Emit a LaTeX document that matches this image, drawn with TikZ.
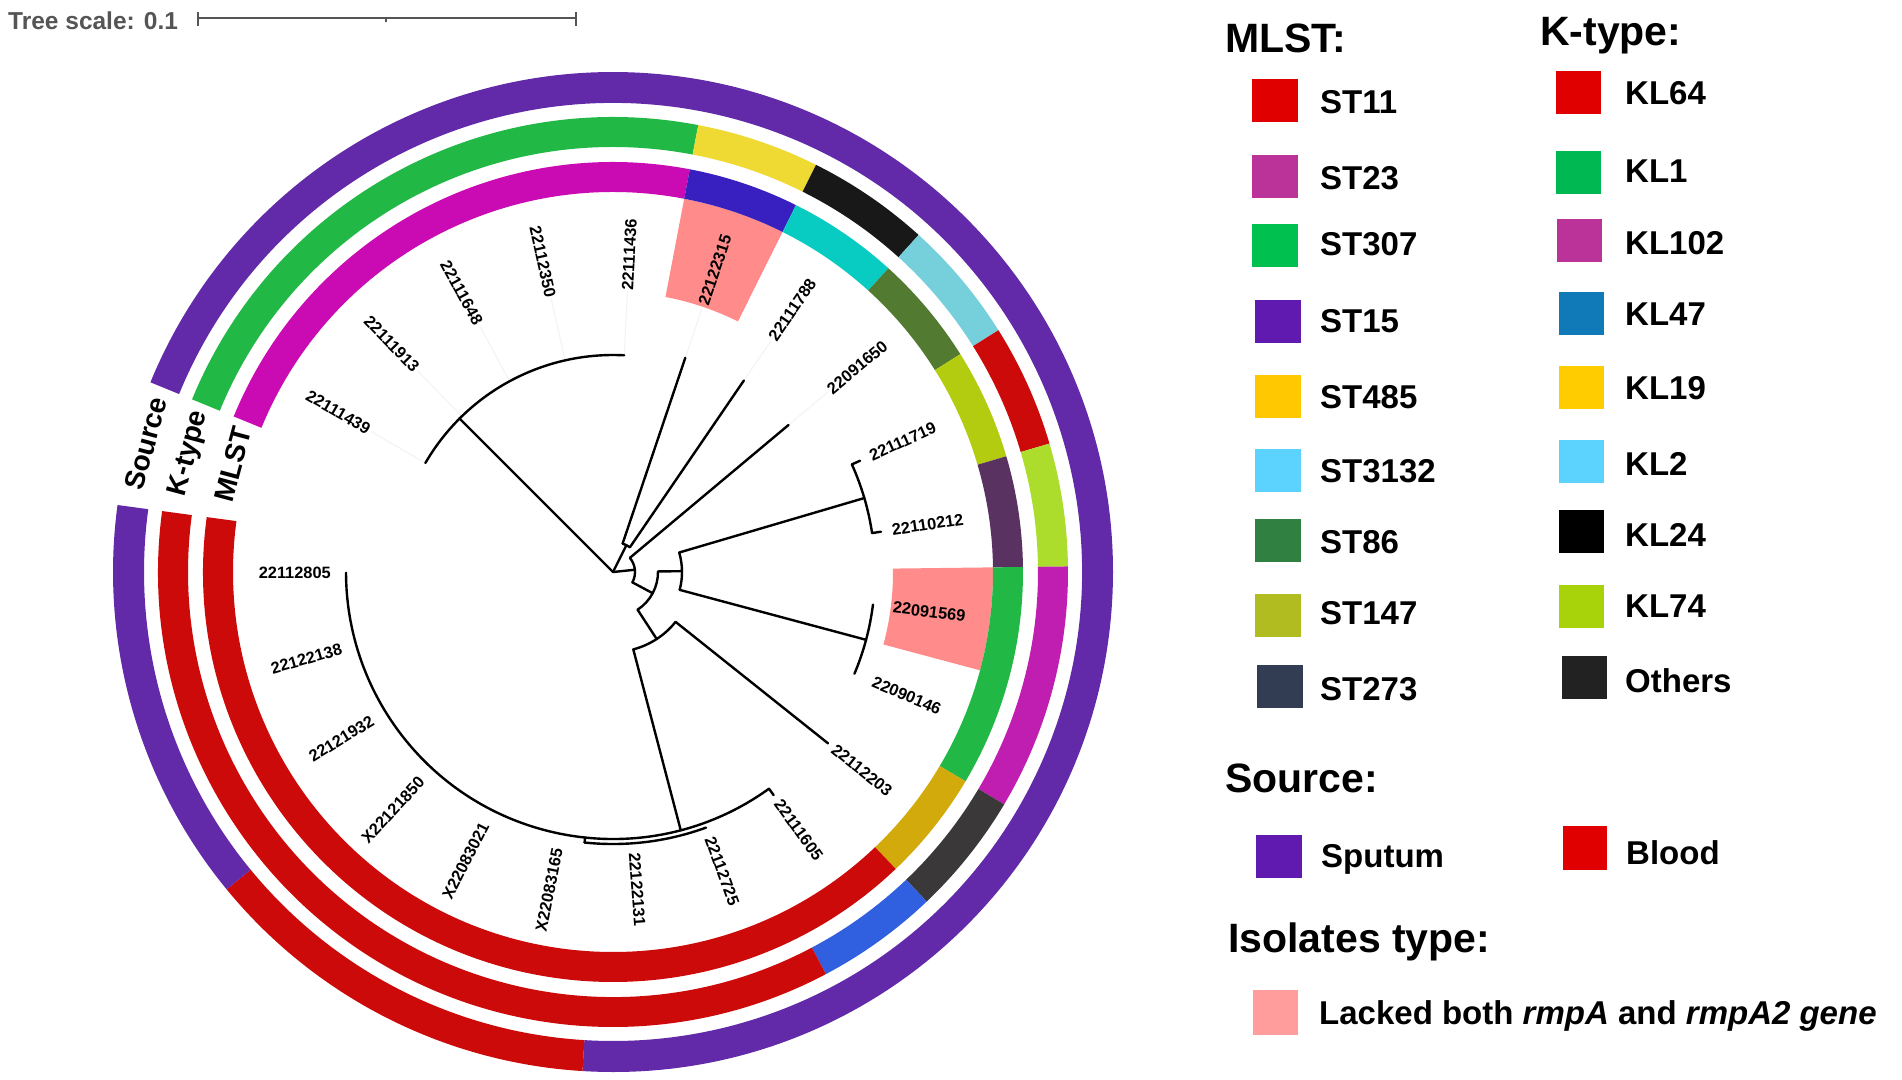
\documentclass[tikz,border=0pt]{standalone}
\usepackage{fontspec}
\setmainfont{Liberation Sans}

% ring colours
\definecolor{srcpurple}{RGB}{98,42,168}
\definecolor{ringred}{RGB}{204,10,10}
\definecolor{ringgreen}{RGB}{34,184,70}
\definecolor{ringmagenta}{RGB}{202,10,178}
\definecolor{ringkmagenta}{RGB}{192,30,176}
\definecolor{ringblue}{RGB}{56,32,192}
\definecolor{ringcyan}{RGB}{8,204,194}
\definecolor{ringolive}{RGB}{82,122,48}
\definecolor{ringygreen}{RGB}{180,204,16}
\definecolor{ringdpurple}{RGB}{90,50,98}
\definecolor{ringgold}{RGB}{210,170,12}
\definecolor{ringyellow}{RGB}{238,218,50}
\definecolor{ringblack}{RGB}{24,24,24}
\definecolor{ringlcyan}{RGB}{118,208,220}
\definecolor{ringkygreen}{RGB}{172,220,44}
\definecolor{ringdgray}{RGB}{58,56,56}
\definecolor{ringkblue}{RGB}{48,96,224}
\definecolor{lackpink}{RGB}{255,140,138}
\definecolor{scalegray}{RGB}{85,85,85}
% legend colours
\definecolor{keyST11}{RGB}{224,0,0}
\definecolor{keyST23}{RGB}{187,51,153}
\definecolor{keyST307}{RGB}{0,192,80}
\definecolor{keyST15}{RGB}{96,26,176}
\definecolor{keyST485}{RGB}{255,200,0}
\definecolor{keyST3132}{RGB}{92,210,255}
\definecolor{keyST86}{RGB}{48,128,66}
\definecolor{keyST147}{RGB}{176,188,32}
\definecolor{keyST273}{RGB}{50,60,82}
\definecolor{keyKL64}{RGB}{224,0,0}
\definecolor{keyKL1}{RGB}{0,184,82}
\definecolor{keyKL102}{RGB}{187,51,153}
\definecolor{keyKL47}{RGB}{16,122,184}
\definecolor{keyKL19}{RGB}{255,204,0}
\definecolor{keyKL2}{RGB}{92,210,255}
\definecolor{keyKL24}{RGB}{0,0,0}
\definecolor{keyKL74}{RGB}{168,210,10}
\definecolor{keyOthers}{RGB}{34,34,34}
\definecolor{keySputum}{RGB}{96,26,176}
\definecolor{keyBlood}{RGB}{224,0,0}
\definecolor{keyLacked}{RGB}{255,156,156}

\begin{document}
\begin{tikzpicture}[x=1pt,y=1pt,
    branch/.style={line width=2.4pt, line cap=round},
    guide/.style={black!5, line width=1pt},
    leaflabel/.style={inner sep=0pt, font=\bfseries\fontsize{16.4}{18}\selectfont},
    ringlabel/.style={inner sep=0pt, rotate=75, font=\bfseries\fontsize{28}{30}\selectfont},
    keytitle/.style={anchor=base west, inner sep=0pt, font=\bfseries\fontsize{41}{46}\selectfont},
    keytext/.style={anchor=base west, inner sep=0pt, font=\bfseries\fontsize{33}{38}\selectfont},
    swatch/.style={inner sep=0pt, minimum width=46pt, minimum height=43pt}]

\useasboundingbox (0,0) rectangle (1902,-1079);

%------ tree scale
\node [anchor=base west, inner sep=0pt, text=scalegray, font=\bfseries\fontsize{24.5}{28}\selectfont] (scaletext) at (8,-29) {Tree scale: 0.1};
\coordinate (sbL) at (198,-18);
\coordinate (sbM) at (386,-18);
\coordinate (sbR) at (576,-18);
\draw [scalegray, line width=2pt] (sbL) -- (sbR);
\draw [scalegray, line width=2pt] ([yshift=6pt]sbL) -- ([yshift=-8pt]sbL);
\draw [scalegray, line width=2pt] ([yshift=6pt]sbR) -- ([yshift=-8pt]sbR);
\draw [scalegray, line width=1.5pt] (sbM) -- ([yshift=-4pt]sbM);

\begin{scope}[shift={(613,-572)}]

	%------ highlighted isolates
	\foreach \k in {6,11} {
		\pgfmathsetmacro\a{157.7-(\k-1)*15.7}
		\pgfmathsetmacro\b{157.7-\k*15.7}
		\fill [lackpink] (\a:280) arc[start angle=\a, end angle=\b, radius=280pt] -- (\b:380) arc[start angle=\b, end angle=\a, radius=380pt] -- cycle;
	}

	%------ rings: MLST, K-type, Source
	\foreach \i/\j/\c/\ri/\ro in {
		1/5/ringmagenta/380/410, 6/6/ringblue/380/410, 7/7/ringcyan/380/410,
		8/8/ringolive/380/410, 9/9/ringygreen/380/410, 10/10/ringdpurple/380/410,
		11/12/ringgreen/380/410, 13/13/ringgold/380/410, 14/22/ringred/380/410,
		1/5/ringgreen/425/455, 6/6/ringyellow/425/455, 7/7/ringblack/425/455,
		8/8/ringlcyan/425/455, 9/9/ringred/425/455, 10/10/ringkygreen/425/455,
		11/12/ringkmagenta/425/455, 13/13/ringdgray/425/455, 14/14/ringkblue/425/455,
		15/22/ringred/425/455,
		1/16/srcpurple/469/500, 17/19/ringred/469/500, 20/22/srcpurple/469/500} {
		\pgfmathsetmacro\a{157.7-(\i-1)*15.7}
		\pgfmathsetmacro\b{157.7-\j*15.7}
		\fill [\c] (\a:\ri) arc[start angle=\a, end angle=\b, radius=\ri pt] -- (\b:\ro) arc[start angle=\b, end angle=\a, radius=\ro pt] -- cycle;
	}

	\node [ringlabel] (lblSource) at (164.6:484.5) {Source};
	\node [ringlabel] (lblKtype) at (164.4:440) {K-type};
	\node [ringlabel] (lblMLST) at (164.2:395) {MLST};

	%------ guides to the aligned labels
	\foreach \t/\r in {149.85/217, 134.15/217, 118.45/217, 102.75/217, 87.05/217, 71.35/226, 55.65/232, 39.95/229}
		\draw [guide] (\t:\r) -- (\t:280);

	%------ tree
	\coordinate (root) at (0,0);
	\coordinate (nA) at (135:217);
	\coordinate (n67) at (63.5:30);
	\coordinate (nB) at (5.9:22);
	\coordinate (nC) at (-28.1:45);
	\coordinate (nD) at (0.7:69);
	\coordinate (nE) at (16.4:262);
	\coordinate (nF) at (-15:262);
	\coordinate (nG) at (-56.9:80);
	\coordinate (nH) at (-75.3:267);

	\draw [branch] (root) -- (nA);
	\draw [branch] (149.85:217) arc[start angle=149.85, end angle=87.05, radius=217pt];

	\draw [branch] (root) -- (n67);
	\draw [branch] (71.35:30) arc[start angle=71.35, end angle=55.65, radius=30pt];
	\draw [branch] (71.35:30) -- (71.35:226);
	\draw [branch] (55.65:30) -- (55.65:232);

	\draw [branch] (root) -- (nB);
	\draw [branch] (39.95:22) arc[start angle=39.95, end angle=-28.1, radius=22pt];
	\draw [branch] (39.95:22) -- (39.95:229);
	\draw [branch] (-28.1:22) -- (nC);
	\draw [branch] (0.7:45) arc[start angle=0.7, end angle=-56.9, radius=45pt];
	\draw [branch] (0.7:45) -- (nD);
	\draw [branch] (16.4:69) arc[start angle=16.4, end angle=-15, radius=69pt];
	\draw [branch] (16.4:69) -- (nE);
	\draw [branch] (-15:69) -- (nF);
	\draw [branch] (24.25:262) arc[start angle=24.25, end angle=8.55, radius=262pt];
	\draw [branch] (24.25:262) -- (24.25:271);
	\draw [branch] (8.55:262) -- (8.55:271);
	\draw [branch] (-7.15:262) arc[start angle=-7.15, end angle=-22.85, radius=262pt];

	\draw [branch] (-56.9:45) -- (nG);
	\draw [branch] (-38.55:80) arc[start angle=-38.55, end angle=-75.3, radius=80pt];
	\draw [branch] (-38.55:80) -- (-38.55:275);
	\draw [branch] (-75.3:80) -- (nH);
	\draw [branch] (-54.25:267) arc[start angle=-54.25, end angle=-179.85, radius=267pt];
	\draw [branch] (-54.25:267) -- (-54.25:275);
	\draw [branch] (-70:272) arc[start angle=-70, end angle=-96, radius=272pt];
	\draw [branch] (-96:267) -- (-96:272);

	%------ leaf labels
	\foreach \k/\nm in {5/22111436, 6/22122315, 7/22111788, 8/22091650, 9/22111719, 10/22110212,
		11/22091569, 12/22090146, 13/22112203, 14/22111605, 15/22112725, 16/22122131} {
		\pgfmathsetmacro\t{157.7-(\k-0.5)*15.7}
		\node [leaflabel, anchor=west, rotate=\t] (l\nm) at (\t:282) {\nm};
	}
	\foreach \k/\nm in {1/22111439, 2/22111913, 3/22111648, 4/22112350, 17/X22083165, 18/X22083021,
		19/X22121850, 20/22121932, 21/22122138, 22/22112805} {
		\pgfmathsetmacro\t{157.7-(\k-0.5)*15.7}
		\node [leaflabel, anchor=east, rotate=\t+180] (l\nm) at (\t:282) {\nm};
	}
\end{scope}

%------ legend
\node [keytitle] (ttMLST) at (1225,-52) {MLST:};
\foreach \nm/\sx/\sy/\ty in {ST11/1274.5/100.5/113, ST23/1274.5/176.5/189, ST307/1275/245.5/255,
	ST15/1278/321/332, ST485/1278/396/408, ST3132/1278/470/482, ST86/1278/540/553,
	ST147/1278/615/624, ST273/1280/686.5/700} {
	\node [swatch, fill=key\nm] (sw\nm) at (\sx,-\sy) {};
	\node [keytext] (tx\nm) at (1320,-\ty) {\nm};
}

\node [keytitle] (ttKtype) at (1540,-45) {K-type:};
\foreach \nm/\sx/\sy/\ty in {KL64/1578.5/92.5/104, KL1/1578.5/172.5/182, KL102/1579/240.5/254,
	KL47/1581/313/325, KL19/1581/387.5/399, KL2/1581/461.5/475, KL24/1581.5/531/546,
	KL74/1581.5/606/617, Others/1584/677.5/692} {
	\node [swatch, minimum width=45pt, fill=key\nm] (sw\nm) at (\sx,-\sy) {};
	\node [keytext] (tx\nm) at (1625,-\ty) {\nm};
}

\node [keytitle] (ttSource) at (1225,-792) {Source:};
\node [swatch, fill=keySputum] (swSputum) at (1279,-856.5) {};
\node [keytext] (txSputum) at (1321,-867) {Sputum};
\node [swatch, minimum width=44pt, minimum height=44pt, fill=keyBlood] (swBlood) at (1585,-848) {};
\node [keytext] (txBlood) at (1626,-864) {Blood};

\node [keytitle] (ttIsolates) at (1228,-952) {Isolates type:};
\node [swatch, minimum width=45pt, minimum height=45pt, fill=keyLacked] (swLacked) at (1275.5,-1012.5) {};
\node [keytext] (txLacked) at (1319,-1024) {Lacked both \textit{rmpA} and \textit{rmpA2 gene}};

\end{tikzpicture}
\end{document}
